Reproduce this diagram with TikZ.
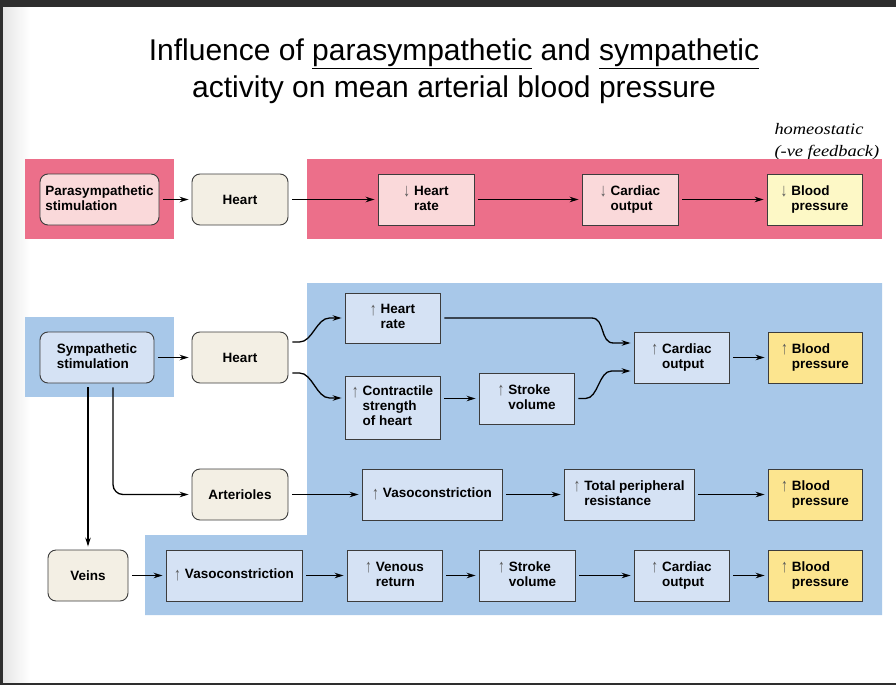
\documentclass[tikz,border=0pt]{standalone}
\usepackage{fontspec}
\setmainfont{Liberation Sans}
\newfontfamily\handfont[FakeStretch=1.15]{Liberation Serif}
\usetikzlibrary{arrows.meta,calc}
\definecolor{pinkband}{HTML}{EC6F8A}
\definecolor{pinkbox}{HTML}{FAD9DA}
\definecolor{beige}{HTML}{F3EFE4}
\definecolor{blueband}{HTML}{A8C8E9}
\definecolor{bluebox}{HTML}{D5E2F4}
\definecolor{ylight}{HTML}{FDF8C6}
\definecolor{ydark}{HTML}{FCE58F}
\definecolor{edgecol}{HTML}{3C3C3C}
\definecolor{framecol}{HTML}{2E2E2E}
\newcommand{\blk}[1]{\begin{tabular}[t]{@{}l@{}}#1\end{tabular}}
\newcommand{\arrglyph}[1]{\raisebox{-1.5pt}{\scalebox{1}[1.35]{\mdseries\color{black!65}#1}}}
\newcommand{\upa}[1]{\arrglyph{↑}\hspace{4pt}\blk{#1}}
\newcommand{\dna}[1]{\arrglyph{↓}\hspace{4pt}\blk{#1}}
\tikzset{
  box/.style={draw=edgecol, line width=0.9pt, inner sep=2pt, minimum height=51pt,
    font=\bfseries\fontsize{13.5}{15}\selectfont, text=black},
  rbox/.style={box, rounded corners=8pt, fill=beige},
  pbox/.style={box, fill=pinkbox},
  bbox/.style={box, fill=bluebox},
  arr/.style={-{Stealth[length=9pt,width=5.5pt]}, line width=1.3pt, shorten <=4pt, shorten >=3pt}
}
\begin{document}
\begin{tikzpicture}[x=1pt,y=-1pt]
\useasboundingbox (0,0) rectangle (896,685);
\fill[white] (0,0) rectangle (896,685);
% frame
\shade[left color=black!10, right color=white] (3,7) rectangle (30,683);
\fill[framecol] (0,0) rectangle (896,7);
\fill[framecol] (0,0) rectangle (3,685);
\fill[framecol] (0,683) rectangle (896,685);
% title
\node[font=\fontsize{30}{37}\selectfont, align=center] (title) at (454,71)
  {Influence of \underline{parasympathetic} and \underline{sympathetic}\\activity on mean arterial blood pressure};
\node[font=\handfont\itshape\fontsize{16}{22}\selectfont, align=left, anchor=north west] (note) at (771,120)
  {homeostatic\\(-ve feedback)};
% bands
\fill[pinkband] (25,159) rectangle (174,239);
\fill[pinkband] (307,159) rectangle (882,239);
\fill[blueband] (25,317) rectangle (174,397);
\fill[blueband] (307,283) -- (882,283) -- (882,615) -- (145,615) -- (145,535) -- (307,535) -- cycle;
% top row
\node[box, rounded corners=8pt, fill=pinkbox, minimum width=119pt] (para) at (99.5,199.5) {\blk{Parasympathetic\\stimulation}};
\node[rbox, minimum width=96pt] (heart1) at (240,199.5) {Heart};
\node[pbox, minimum width=96pt] (hr1) at (426,199.5) {\dna{Heart\\rate}};
\node[pbox, minimum width=96pt] (co1) at (630,199.5) {\dna{Cardiac\\output}};
\node[box, fill=ylight, minimum width=95pt] (bp1) at (814.5,199.5) {\dna{Blood\\pressure}};
% middle
\node[box, rounded corners=8pt, fill=bluebox, minimum width=114pt] (symp) at (97,357.5) {\blk{Sympathetic\\stimulation}};
\node[rbox, minimum width=96pt] (heart2) at (240,357.5) {Heart};
\node[bbox, minimum width=95pt, minimum height=50pt] (hr2) at (392.5,318) {\upa{Heart\\rate}};
\node[bbox, minimum width=95pt, minimum height=63pt] (cs) at (392.5,407.5) {\upa{Contractile\\strength\\of heart}};
\node[bbox, minimum width=95pt] (sv2) at (526.5,398.5) {\upa{Stroke\\volume}};
\node[bbox, minimum width=95pt] (co2) at (681.5,357.5) {\upa{Cardiac\\output}};
\node[box, fill=ydark, minimum width=94pt] (bp2) at (815,357.5) {\upa{Blood\\pressure}};
% arterioles row
\node[rbox, minimum width=96pt] (art) at (240,494.5) {Arterioles};
\node[bbox, minimum width=140pt] (vc2) at (432,494.5) {\upa{Vasoconstriction}};
\node[bbox, minimum width=130pt] (tpr) at (629,494.5) {\upa{Total peripheral\\resistance}};
\node[box, fill=ydark, minimum width=94pt] (bp3) at (815,494.5) {\upa{Blood\\pressure}};
% bottom row
\node[rbox, minimum width=80pt] (veins) at (88,575.5) {Veins};
\node[bbox, minimum width=136pt] (vc3) at (234,575.5) {\upa{Vasoconstriction}};
\node[bbox, minimum width=95pt] (vr) at (394.5,575.5) {\upa{Venous\\return}};
\node[bbox, minimum width=96pt] (sv3) at (527,575.5) {\upa{Stroke\\volume}};
\node[bbox, minimum width=95pt] (co3) at (681.5,575.5) {\upa{Cardiac\\output}};
\node[box, fill=ydark, minimum width=94pt] (bp4) at (815,575.5) {\upa{Blood\\pressure}};
% arrows top
\draw[arr] (para) -- (heart1);
\draw[arr] (heart1) -- (hr1);
\draw[arr] (hr1) -- (co1);
\draw[arr] (co1) -- (bp1);
% arrows middle
\draw[arr] (symp) -- (heart2);
\draw[arr] ([yshift=15.5pt]heart2.east) -- ++(11,0) .. controls +(13,0) and +(-13,0) .. ([xshift=-15pt]hr2.west) -- (hr2.west);
\draw[arr] ([yshift=-15.5pt]heart2.east) -- ++(11,0) .. controls +(13,0) and +(-13,0) .. ([xshift=-15pt,yshift=9.5pt]cs.west) -- ([yshift=9.5pt]cs.west);
\draw[arr] (cs.east |- sv2.west) -- (sv2.west);
\draw[arr] (hr2.east) -- ($(co2.west |- hr2.east)+(-42,0)$) .. controls +(14,0) and +(-14,0) .. ([xshift=-20pt,yshift=14.5pt]co2.west) -- ([yshift=14.5pt]co2.west);
\draw[arr] (sv2.east) -- ++(11,0) .. controls +(13,0) and +(-13,0) .. ([xshift=-22pt,yshift=-13.5pt]co2.west) -- ([yshift=-13.5pt]co2.west);
\draw[arr] (co2) -- (bp2);
% arterioles and veins
\draw[arr, rounded corners=10pt] ([xshift=16pt]symp.south) |- (art.west);
\draw[arr] (symp.south -| veins.north) -- (veins.north);
\draw[arr] (art) -- (vc2);
\draw[arr] (vc2) -- (tpr);
\draw[arr] (tpr) -- (bp3);
\draw[arr] (veins) -- (vc3);
\draw[arr] (vc3) -- (vr);
\draw[arr] (vr) -- (sv3);
\draw[arr] (sv3) -- (co3);
\draw[arr] (co3) -- (bp4);
\end{tikzpicture}
\end{document}
